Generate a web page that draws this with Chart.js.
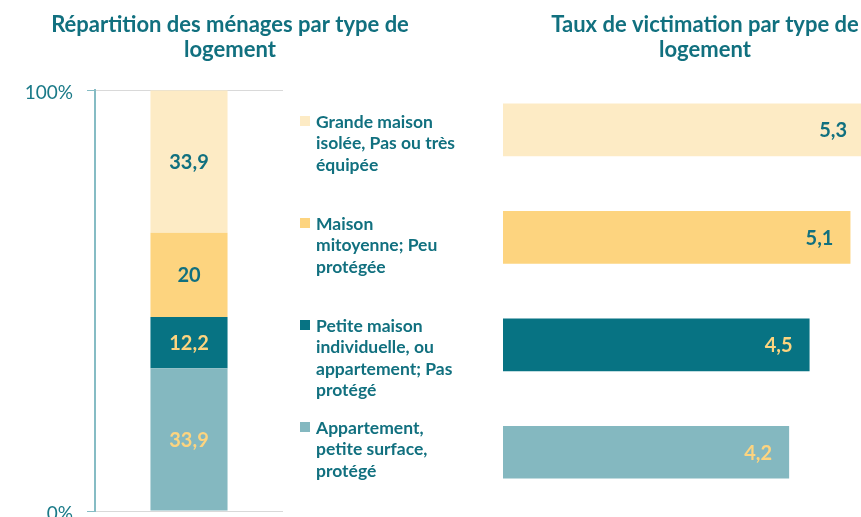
<!DOCTYPE html>
<html>
<head>
<meta charset="utf-8">
<script src="https://cdn.jsdelivr.net/npm/chart.js@4.4.0/dist/chart.umd.min.js"></script>
<style>
  body { margin: 0; width: 861px; height: 517px; overflow: hidden; position: relative; background: #fff; font-family: Lato, sans-serif; }
  #left { position: absolute; left: 0; top: 0; }
  #right { position: absolute; left: 503px; top: 0; }
  #legend { position: absolute; left: 300px; top: 0; }
  .item { position: absolute; left: 0; width: 190px; color: #11707f; font-weight: bold; font-size: 17.5px; line-height: 21.3px; padding-left: 16px; white-space: nowrap; }
  .box { position: absolute; left: 0; top: 5px; width: 10px; height: 10px; }
</style>
</head>
<body>
<canvas id="left" width="460" height="540"></canvas>
<canvas id="right" width="404" height="540"></canvas>
<div id="legend"></div>
<script>
// types de logement, du haut vers le bas
const LOGEMENTS = [
    ["Grande maison", "isolée, Pas ou très", "équipée"],
    ["Maison", "mitoyenne; Peu", "protégée"],
    ["Petite maison", "individuelle, ou", "appartement; Pas", "protégé"],
    ["Appartement,", "petite surface,", "protégé"]
];
const REPARTITION = [33.9, 20, 12.2, 33.9];   // % des ménages
const VICTIMATION = [5.3, 5.1, 4.5, 4.2];     // taux de victimation
const Y_TICKS = [0, 100];

const TEAL_TEXT = '#11707f';
const COLORS = ['#fdebc5', '#fdd47f', '#077383', '#84b8c0'];
const LABEL_COLORS = [TEAL_TEXT, TEAL_TEXT, '#fdd47f', '#fdd47f'];

// draws the values inside the bars
const valueLabels = {
    id: 'valueLabels',
    afterDatasetsDraw(chart, args, opts) {
        const ctx = chart.ctx;
        ctx.save();
        ctx.font = 'bold 20px Lato';
        ctx.textBaseline = 'middle';
        chart.data.datasets.forEach((ds, i) => {
            chart.getDatasetMeta(i).data.forEach((bar, j) => {
                const txt = String(ds.data[j]).replace('.', ',');
                ctx.fillStyle = Array.isArray(ds.labelColor) ? ds.labelColor[j] : ds.labelColor;
                if (opts.atEnd) {
                    ctx.textAlign = 'right';
                    ctx.fillText(txt, bar.x - 17, bar.y + 1);
                } else {
                    ctx.textAlign = 'center';
                    ctx.fillText(txt, bar.x, (bar.y + bar.base) / 2 + 1);
                }
            });
        });
        ctx.restore();
    }
};

function titleOpts(lines, bottom) {
    return {
        display: true,
        text: lines,
        color: TEAL_TEXT,
        font: { family: 'Lato', size: 22, weight: 'bold', lineHeight: 1.14 },
        padding: { top: 12, bottom: bottom }
    };
}

// left: stacked 100% bar (bottom segment first)
var leftSets = [];
for (var k = LOGEMENTS.length - 1; k >= 0; k--) {
    leftSets.push({
        label: LOGEMENTS[k].join(' '),
        data: [REPARTITION[k]],
        backgroundColor: COLORS[k],
        labelColor: LABEL_COLORS[k],
        barPercentage: 0.41,
        categoryPercentage: 1
    });
}

new Chart(document.getElementById('left'), {
    type: 'bar',
    data: { labels: [''], datasets: leftSets },
    options: {
        responsive: false,
        animation: false,
        layout: { padding: { bottom: 29 } },
        plugins: {
            legend: { display: false },
            tooltip: { enabled: false },
            title: titleOpts(['Répartition des ménages par type de', 'logement'], 28),
            valueLabels: { atEnd: false }
        },
        scales: {
            x: { stacked: true, display: false },
            y: {
                stacked: true, min: 0, max: 100,
                afterBuildTicks: s => { s.ticks = Y_TICKS.map(v => ({ value: v })); },
                afterFit: s => { s.width = 95; },
                ticks: { callback: v => v + '%', color: '#1a7a88', font: { family: 'Lato', size: 19 }, padding: 14, labelOffset: 3 },
                grid: { color: '#d9d9d9', tickColor: '#86bcc4', tickLength: 8 },
                border: { color: '#86bcc4', width: 2 }
            },
            // empty space on the right, where the legend sits
            ySpace: {
                position: 'right',
                afterFit: s => { s.width = 177; },
                ticks: { display: false },
                grid: { display: false },
                border: { display: false }
            }
        }
    },
    plugins: [valueLabels]
});

// right: horizontal bars
new Chart(document.getElementById('right'), {
    type: 'bar',
    data: {
        labels: LOGEMENTS.map(l => l.join(' ')),
        datasets: [{
            data: VICTIMATION,
            backgroundColor: COLORS,
            labelColor: LABEL_COLORS,
            barPercentage: 0.49,
            categoryPercentage: 1
        }]
    },
    options: {
        indexAxis: 'y',
        responsive: false,
        animation: false,
        layout: { padding: { bottom: 34 } },
        plugins: {
            legend: { display: false },
            tooltip: { enabled: false },
            title: titleOpts(['Taux de victimation par type de', 'logement'], 14),
            valueLabels: { atEnd: true }
        },
        scales: {
            x: { display: false, min: 0, max: 5.93 },
            y: { display: false }
        }
    },
    plugins: [valueLabels]
});

// legend in the middle
var legend = document.getElementById('legend');
LOGEMENTS.forEach((lines, i) => {
    var item = document.createElement('div');
    item.className = 'item';
    item.style.top = (111 + i * 102) + 'px';
    item.innerHTML = '<span class="box" style="background:' + COLORS[i] + '"></span>' + lines.join('<br>');
    legend.appendChild(item);
});
</script>
</body>
</html>
